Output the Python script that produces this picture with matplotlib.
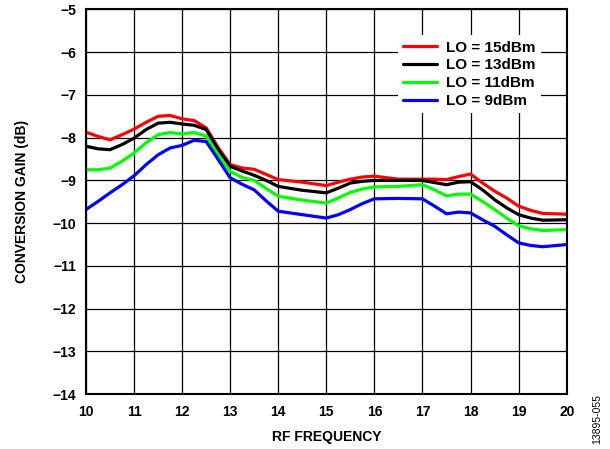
import matplotlib.pyplot as plt
import numpy as np

plt.rcParams['font.family'] = ['Liberation Sans', 'DejaVu Sans']

# RF frequency (GHz)
freq = [10, 10.25, 10.5, 10.75, 11, 11.25, 11.5, 11.75, 12, 12.25, 12.5, 12.75,
        13, 13.25, 13.5, 13.75, 14, 14.5, 15, 15.25, 15.5, 15.75, 16, 16.5, 17,
        17.25, 17.5, 17.75, 18, 18.25, 18.5, 18.75, 19, 19.25, 19.5, 20]

# conversion gain (dB) for each LO level
lo15 = [-7.87, -7.97, -8.05, -7.93, -7.80, -7.64, -7.50, -7.48, -7.56, -7.60, -7.77, -8.23,
        -8.63, -8.71, -8.74, -8.86, -8.98, -9.04, -9.12, -9.04, -8.97, -8.92, -8.90, -8.97, -8.97,
        -8.97, -8.98, -8.91, -8.85, -9.06, -9.25, -9.41, -9.60, -9.70, -9.77, -9.79]
lo13 = [-8.20, -8.26, -8.28, -8.16, -8.01, -7.81, -7.66, -7.64, -7.68, -7.71, -7.81, -8.28,
        -8.67, -8.78, -8.88, -9.00, -9.14, -9.23, -9.29, -9.18, -9.06, -9.02, -9.00, -9.00, -9.00,
        -9.05, -9.10, -9.04, -9.03, -9.22, -9.45, -9.64, -9.80, -9.88, -9.93, -9.92]
lo11 = [-8.75, -8.75, -8.71, -8.55, -8.36, -8.12, -7.93, -7.88, -7.91, -7.88, -7.96, -8.40,
        -8.79, -8.93, -9.00, -9.19, -9.37, -9.46, -9.53, -9.41, -9.28, -9.20, -9.15, -9.14, -9.10,
        -9.22, -9.36, -9.32, -9.32, -9.49, -9.68, -9.88, -10.06, -10.13, -10.17, -10.15]
lo9 = [-9.68, -9.49, -9.29, -9.10, -8.89, -8.63, -8.40, -8.24, -8.18, -8.06, -8.09, -8.51,
       -8.94, -9.09, -9.22, -9.48, -9.72, -9.80, -9.88, -9.80, -9.68, -9.54, -9.43, -9.42, -9.43,
       -9.60, -9.78, -9.74, -9.76, -9.92, -10.07, -10.27, -10.46, -10.52, -10.55, -10.50]

fig = plt.figure(figsize=(6.1, 4.49), dpi=100)
ax = fig.add_axes([0.141, 0.122, 0.788, 0.857])

style = dict(lw=2.3, solid_joinstyle='round', solid_capstyle='round')
ax.plot(freq, lo15, color='#ff0000', label='LO = 15dBm', **style)
ax.plot(freq, lo13, color='#000000', label='LO = 13dBm', **style)
ax.plot(freq, lo11, color='#00ff00', label='LO = 11dBm', **style)
ax.plot(freq, lo9, color='#0000ff', label='LO = 9dBm', **style)

ax.set_xlim(10, 20)
ax.set_ylim(-14, -5)
ax.set_xticks(np.arange(10, 21, 1))
ax.set_yticks(np.arange(-14, -4, 1))
ax.grid(True, color='black', lw=0.9)
ax.tick_params(length=0, labelsize=10)
ax.tick_params(axis='x', pad=8)
ax.tick_params(axis='y', pad=7)
for lbl in ax.get_xticklabels() + ax.get_yticklabels():
    lbl.set_fontweight('bold')
for s in ax.spines.values():
    s.set_linewidth(1.5)

ax.set_xlabel('RF FREQUENCY', fontsize=10, fontweight='bold', labelpad=8)
ax.set_ylabel('CONVERSION GAIN (dB)', fontsize=10, fontweight='bold', labelpad=17)

leg = ax.legend(loc='upper right', bbox_to_anchor=(0.962, 0.953), prop={'size': 11, 'weight': 'bold'},
                frameon=True, fancybox=False, framealpha=1, edgecolor='none',
                handlelength=2.2, handletextpad=0.6, labelspacing=0.25, borderpad=0.35)

fig.text(0.979, 0.067, '13895-055', rotation=90, fontsize=7.5, ha='center', va='center')

fig.savefig('out.png', dpi=100)
